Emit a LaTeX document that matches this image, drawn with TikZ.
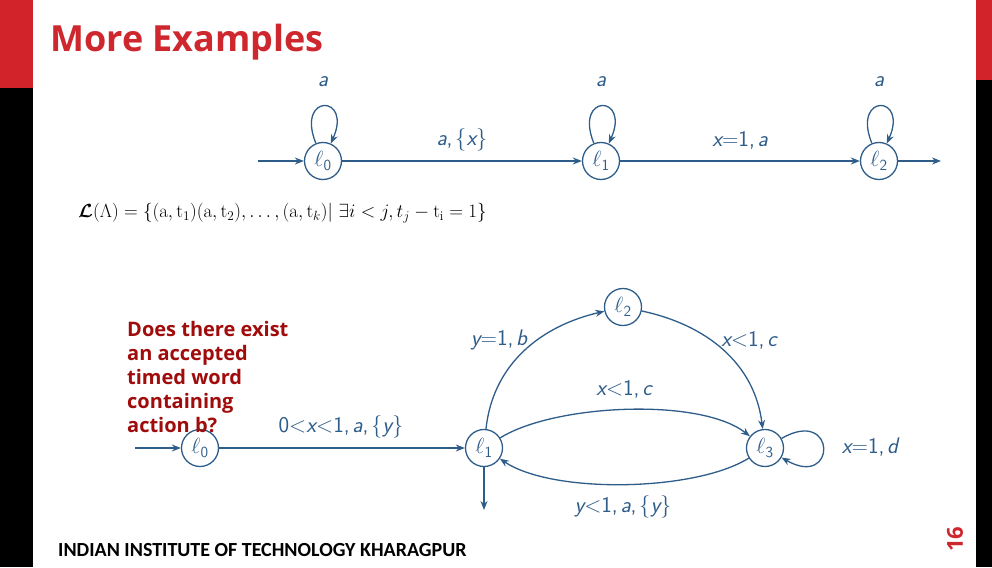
\RequirePackage{fix-cm}
\documentclass[tikz,border=0pt]{standalone}
\usepackage{amsmath,amssymb,bm}
\usepackage{fontspec}
\newfontfamily\titlefont{Open Sans}
\newfontfamily\footfont{Carlito}
\usetikzlibrary{arrows.meta}
\definecolor{barred}{RGB}{210,35,42}
\definecolor{titlered}{RGB}{206,40,46}
\definecolor{qred}{RGB}{160,12,12}
\definecolor{autblue}{RGB}{47,93,138}
\newcommand{\vv}[1]{{\itshape #1}}
\newcommand{\cm}{,\kern0.12em}
\newcommand{\loc}[1]{$\ell_{\textsf{#1}}$}
\begin{document}
\begin{tikzpicture}[x=1pt,y=-1pt,
  st/.style={circle,draw=autblue,line width=1.3pt,minimum size=37pt,inner sep=0pt,text=autblue,font=\sffamily\fontsize{22}{26}\selectfont},
  arr/.style={draw=autblue,line width=1.3pt,-{Stealth[length=9pt,width=7pt]}},
  lab/.style={text=autblue,font=\sffamily\fontsize{22.5}{26}\selectfont,inner sep=0pt}]
\useasboundingbox (0,0) rectangle (992,567);
\fill[white] (0,0) rectangle (992,567);
% side bars
\fill[black] (0,0) rectangle (33,567);
\fill[barred] (0,0) rectangle (33,88);
\fill[black] (976,0) rectangle (992,567);
\fill[barred] (976,0) rectangle (992,80);
% title
\node[anchor=base west,text=titlered,inner sep=0pt,font=\titlefont\bfseries\fontsize{36}{42}\selectfont] (title) at (50,52) {More Examples};
% top automaton
\node[st] (a0) at (323,161) {\loc{0}};
\node[st] (a1) at (601,161) {\loc{1}};
\node[st] (a2) at (879,161) {\loc{2}};
\coordinate (ain) at (258,161);
\coordinate (aout) at (941,161);
\draw[arr] (ain) -- (a0);
\draw[arr] (a0) -- (a1);
\draw[arr] (a1) -- (a2);
\draw[arr] (a2) -- (aout);
\draw[arr] (a0) to[out=112,in=66,min distance=54pt] (a0);
\draw[arr] (a1) to[out=112,in=66,min distance=54pt] (a1);
\draw[arr] (a2) to[out=112,in=66,min distance=54pt] (a2);
\node[lab] (la0) at (323,82) {\vv{a}};
\node[lab] (la1) at (601,82) {\vv{a}};
\node[lab] (la2) at (879,82) {\vv{a}};
\node[lab] (le01) at (462,140) {\vv{a}\cm\{\vv{x}\}};
\node[lab] (le12) at (740,140) {\vv{x}=1\cm\vv{a}};
% language
\node[anchor=west,inner sep=0pt,font=\fontsize{19}{22}\selectfont] (lang) at (78,213)
  {$\bm{\mathcal{L}}(\Lambda) = \{(\mathrm{a},\mathrm{t}_1)(\mathrm{a},\mathrm{t}_2),\ldots,(\mathrm{a},\mathrm{t}_k)|\ \exists i<j, t_j-\mathrm{t}_\mathrm{i}=1\}$};
% bottom automaton
\node[st] (b0) at (200,448) {\loc{0}};
\node[st] (b1) at (484,448) {\loc{1}};
\node[st] (b2) at (623,307) {\loc{2}};
\node[st] (b3) at (765,448) {\loc{3}};
\coordinate (bin) at (135,448);
\coordinate (bout) at (484,510);
\draw[arr] (bin) -- (b0);
\draw[arr] (b0) -- (b1);
\draw[arr] (b1) -- (bout);
\draw[arr] (b1) to[out=84,in=193] (b2);
\draw[arr] (b2) to[out=-12,in=97] (b3);
\draw[arr] (b1) to[out=32,in=142,looseness=0.65] (b3);
\draw[arr] (b3) to[out=-148,in=-34,looseness=0.65] (b1);
\draw[arr] (b3) to[out=30,in=-30,min distance=64pt] (b3);
\node[lab] (lb01) at (341,427) {0<\vv{x}<1\cm\vv{a}\cm\{\vv{y}\}};
\node[lab] (lb12) at (499,340) {\vv{y}=1\cm\vv{b}};
\node[lab] (lb23) at (749,340) {\vv{x}<1\cm\vv{c}};
\node[lab] (lb13) at (624,389) {\vv{x}<1\cm\vv{c}};
\node[lab] (lb31) at (623,507) {\vv{y}<1\cm\vv{a}\cm\{\vv{y}\}};
\node[lab] (lb33) at (870,447) {\vv{x}=1\cm\vv{d}};
% question
\node[anchor=north west,align=left,inner sep=0pt,text=qred,font=\titlefont\bfseries\fontsize{20}{24}\selectfont] (q) at (127,321)
  {Does there exist\\an accepted\\timed word\\containing\\action b?};
% footer
\node[anchor=base west,inner sep=0pt,font=\footfont\bfseries\fontsize{20}{24}\selectfont] (foot) at (58,556) {INDIAN INSTITUTE OF TECHNOLOGY KHARAGPUR};
\node[rotate=90,inner sep=0pt,text=titlered,font=\titlefont\bfseries\fontsize{22}{26}\selectfont] (pg) at (955,539) {16};
\end{tikzpicture}
\end{document}
